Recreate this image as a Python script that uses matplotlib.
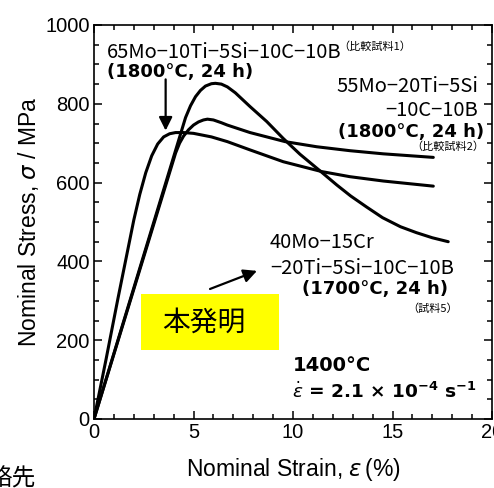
import matplotlib
matplotlib.use('Agg')
from matplotlib import pyplot as plt
from matplotlib import patches
from matplotlib.ticker import MultipleLocator

# Nominal stress-strain curves at 1400 C
# 65Mo-10Ti-5Si-10C-10B (comparative sample 1)
strain_cmp1 = [0, 0.6, 1.2, 1.7, 2.0, 2.3, 2.6, 2.9, 3.2, 3.5, 3.8, 4.1,
               4.5, 5.0, 5.9, 6.7, 7.84, 9.51, 11.44, 12.86, 14.54, 17.05]
stress_cmp1 = [0, 150, 305, 430, 505, 570, 625, 668, 698, 716, 724, 727,
               727, 725, 716, 704, 683, 653, 628, 615, 604, 591]

# 55Mo-20Ti-5Si-10C-10B (comparative sample 2)
strain_cmp2 = [0, 4.1, 4.3, 4.5, 4.75, 5.0, 5.25, 5.5, 5.7, 6.0, 6.4, 6.7,
               7.84, 9.6, 11.19, 12.86, 14.54, 17.05]
stress_cmp2 = [0, 675, 700, 718, 734, 746, 754, 759, 761, 759, 752, 746,
               727, 704, 691, 681, 673, 664]

# 40Mo-15Cr-20Ti-5Si-10C-10B (sample 5, invention)
strain_inv = [0, 4.6, 4.85, 5.1, 5.35, 5.6, 5.9, 6.1, 6.4, 6.7, 7.1, 7.84,
              8.68, 9.51, 10.35, 11.4, 12.2, 12.9, 13.7, 14.5, 15.4, 16.2,
              17.0, 17.8]
stress_inv = [0, 765, 795, 818, 834, 845, 851, 852, 850, 843, 828, 793,
              755, 712, 672, 628, 594, 566, 538, 511, 488, 473, 460, 450]

x_ticks = [0, 5, 10, 15, 20]
y_ticks = [0, 200, 400, 600, 800, 1000]

jp = ['Noto Sans CJK JP', 'DejaVu Sans']
plt.rcParams['font.family'] = ['Liberation Sans', 'DejaVu Sans']

fig = plt.figure(figsize=(4.94, 4.88), dpi=100)
ax = fig.add_axes([94/494, 69/488, 398/494, 394/488])

lw = 2.2
for sx, sy in [(strain_cmp1, stress_cmp1), (strain_cmp2, stress_cmp2),
               (strain_inv, stress_inv)]:
    ax.plot(sx, sy, color='k', lw=lw, solid_capstyle='round',
            solid_joinstyle='round')

ax.set_xlim(0, 20)
ax.set_ylim(0, 1000)
ax.set_xticks(x_ticks)
ax.set_yticks(y_ticks)
ax.xaxis.set_minor_locator(MultipleLocator(1))
ax.yaxis.set_minor_locator(MultipleLocator(50))
ax.tick_params(which='both', direction='in', top=True, right=True,
               labelsize=14.5, width=1.1)
ax.tick_params(which='major', length=6, pad=3)
ax.tick_params(which='minor', length=3.5)
for s in ax.spines.values():
    s.set_linewidth(1.2)

ax.set_xlabel(r'Nominal Strain, $\varepsilon\,$(%)', fontsize=16.5, labelpad=10)
ax.set_ylabel(r'Nominal Stress, $\sigma$ / MPa', fontsize=16.5, labelpad=3)

# labels for comparative sample 1
ax.text(0.65, 931, '65Mo−10Ti−5Si−10C−10B', family=jp, fontsize=14.5,
        va='center', ha='left')
ax.text(12.3, 944, '（比較試料1）', family=jp, fontsize=8,
        va='center', ha='left')
ax.text(0.65, 881, '(1800°C, 24 h)', family='DejaVu Sans',
        fontweight='bold', fontsize=13, va='center', ha='left')
ax.annotate('', xy=(3.6, 732), xytext=(3.6, 862),
            arrowprops=dict(arrowstyle='-|>', color='k', lw=1.6,
                            mutation_scale=20, shrinkA=0, shrinkB=0))

# labels for comparative sample 2
ax.text(19.3, 843, '55Mo−20Ti−5Si', family=jp, fontsize=14.5,
        va='center', ha='right')
ax.text(19.3, 782, '−10C−10B', family=jp, fontsize=14.5,
        va='center', ha='right')
ax.text(19.6, 728, '(1800°C, 24 h)', family='DejaVu Sans',
        fontweight='bold', fontsize=13, va='center', ha='right')
ax.text(19.6, 690, '（比較試料2）', family=jp, fontsize=8,
        va='center', ha='right')

# labels for sample 5
ax.text(8.84, 447, '40Mo−15Cr', family=jp, fontsize=14.5,
        va='center', ha='left')
ax.text(8.84, 383, '−20Ti−5Si−10C−10B', family=jp, fontsize=14.5,
        va='center', ha='left')
ax.text(14.12, 330, '(1700°C, 24 h)', family='DejaVu Sans',
        fontweight='bold', fontsize=13, va='center', ha='center')
ax.text(17.0, 279, '（試料5）', family=jp, fontsize=8,
        va='center', ha='center')
ax.annotate('', xy=(8.19, 376), xytext=(5.83, 330),
            arrowprops=dict(arrowstyle='-|>', color='k', lw=1.6,
                            mutation_scale=20, shrinkA=0, shrinkB=0))

box = patches.Rectangle((2.36, 175), 6.94, 142, facecolor='#ffff00',
                        edgecolor='none', zorder=3)
ax.add_patch(box)
ax.text(5.53, 244, '本発明', family=jp, fontsize=20, va='center',
        ha='center', zorder=4)

# test conditions
ax.text(10.0, 137, '1400°C', family='DejaVu Sans', fontweight='bold',
        fontsize=14, va='center', ha='left')
ax.text(9.95, 70, r'$\dot{\varepsilon}$ = 2.1 × 10$^{\mathbf{-4}}$ s$^{\mathbf{-1}}$',
        family='DejaVu Sans', fontweight='bold', fontsize=13.3,
        va='center', ha='left')

# cut-off text at the bottom left of the page
fig.text(-12/494, 1 - 468/488, '絡先', family=jp, fontsize=17,
         va='top', ha='left')

fig.savefig('out.png', dpi=100)
